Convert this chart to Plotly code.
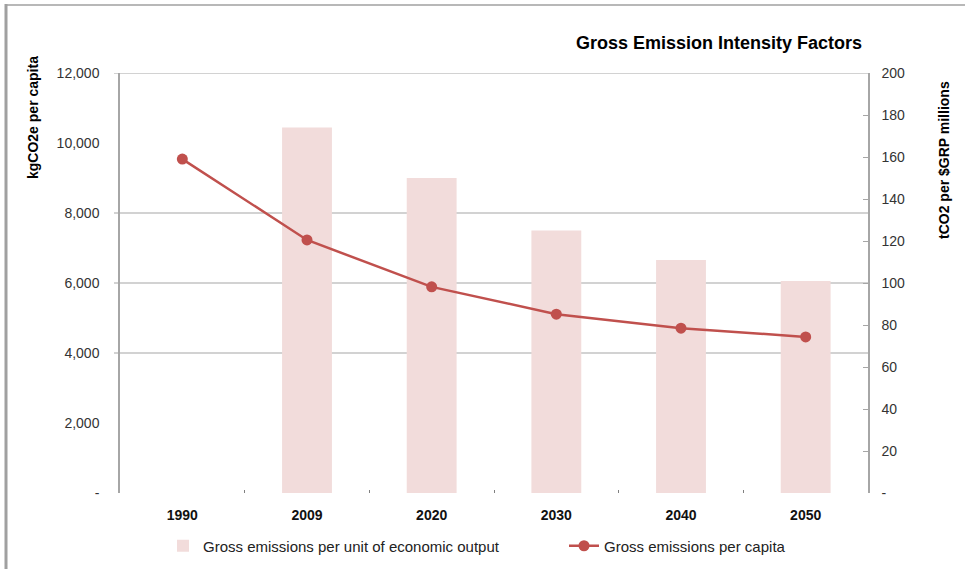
import plotly.graph_objects as go

years = ["1990", "2009", "2020", "2030", "2040", "2050"]
per_capita = [9540, 7230, 5890, 5110, 4710, 4460]          # kgCO2e per capita (left axis)
per_output = [None, 174, 150, 125, 111, 101]               # tCO2 per $GRP millions (right axis)
left_ticks = [0, 2000, 4000, 6000, 8000, 10000, 12000]
left_ticktext = ["-", "2,000", "4,000", "6,000", "8,000", "10,000", "12,000"]
right_ticks = [0, 20, 40, 60, 80, 100, 120, 140, 160, 180, 200]
right_ticktext = ["-"] + [str(v) for v in right_ticks[1:]]
grid_values = [4000, 6000, 8000, 12000]

W, H = 965, 569
L, R, T, B = 120, 868, 73, 493

def px(x):
    return (x - L) / (R - L)

def py(y):
    return (B - y) / (B - T)

font = "Liberation Sans, Arial, sans-serif"

fig = go.Figure()
fig.add_trace(go.Bar(
    x=years, y=per_output, name="Gross emissions per unit of economic output",
    marker=dict(color="#f2dcdb", line=dict(width=0)), yaxis="y", legend="legend",
))
fig.add_trace(go.Scatter(
    x=years, y=per_capita, name="Gross emissions per capita", mode="lines+markers",
    line=dict(color="#c0504d", width=2.5), marker=dict(color="#c0504d", size=11),
    yaxis="y2", legend="legend2",
))

shapes = []
for g in grid_values:
    shapes.append(dict(type="line", xref="paper", yref="y2", x0=px(114), x1=1, y0=g, y1=g,
                       line=dict(color="#a6a6a6", width=1.2), layer="below"))
# outer frame (left and top)
shapes.append(dict(type="line", xref="paper", yref="paper", x0=px(6), x1=px(6), y0=py(4), y1=py(569),
                   line=dict(color="#a0a0a0", width=3)))
shapes.append(dict(type="line", xref="paper", yref="paper", x0=px(5), x1=px(965), y0=py(5), y1=py(5),
                   line=dict(color="#a0a0a0", width=1.5)))

annotations = [
    dict(text="<b>Gross Emission Intensity Factors</b>", xref="paper", yref="paper",
         x=px(719), y=py(43), xanchor="center", yanchor="middle", showarrow=False,
         font=dict(size=18, color="#000", family=font)),
    dict(text="<b>kgCO2e per capita</b>", xref="paper", yref="paper", textangle=-90,
         x=px(33), y=py(118), xanchor="center", yanchor="middle", showarrow=False,
         font=dict(size=14, color="#000", family=font)),
    dict(text="<b>tCO2 per $GRP millions</b>", xref="paper", yref="paper", textangle=-90,
         x=px(944), y=py(160), xanchor="center", yanchor="middle", showarrow=False,
         font=dict(size=14, color="#000", family=font)),
]

legend_common = dict(orientation="h", xanchor="left", yanchor="middle",
                     font=dict(size=15, color="#222", family=font),
                     bgcolor="rgba(0,0,0,0)", itemwidth=30)

fig.update_layout(
    width=W, height=H,
    margin=dict(l=L, r=W - R, t=T, b=H - B, autoexpand=False),
    paper_bgcolor="white", plot_bgcolor="white",
    font=dict(family=font, size=14, color="#222"),
    bargap=0.6,
    showlegend=True,
    legend=dict(x=px(163), y=py(546), **legend_common),
    legend2=dict(x=px(564), y=py(546), **legend_common),
    xaxis=dict(type="category", range=[-0.5, 5.5], showgrid=False, showline=False,
               ticks="inside", tickson="boundaries", ticklen=3, tickcolor="#808080",
               tickfont=dict(size=14, color="#111", family=font, weight="bold"),
               ticklabelstandoff=12, automargin=False),
    yaxis=dict(side="right", range=[0, 200], tickvals=right_ticks, ticktext=right_ticktext,
               showgrid=False, showline=True, linecolor="#a6a6a6", linewidth=1.5,
               ticks="inside", ticklen=5, tickcolor="#a6a6a6", zeroline=False,
               tickfont=dict(size=14, color="#333"), ticklabelstandoff=9, anchor="x",
               automargin=False),
    yaxis2=dict(side="left", overlaying="y", range=[0, 12000], tickvals=left_ticks,
                ticktext=left_ticktext, showgrid=False, showline=True, linecolor="#a6a6a6",
                linewidth=1.5, ticks="", zeroline=False, tickfont=dict(size=14, color="#333"),
                ticklabelstandoff=16, anchor="x", automargin=False),
    shapes=shapes,
    annotations=annotations,
)

fig.write_html("out.html")
